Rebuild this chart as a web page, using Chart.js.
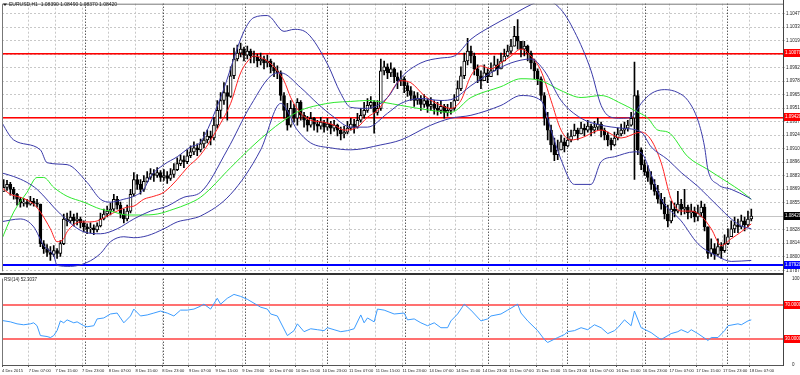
<!DOCTYPE html>
<html>
<head>
<meta charset="utf-8">
<script src="https://cdn.jsdelivr.net/npm/chart.js@4.4.1/dist/chart.umd.min.js"></script>
<style>
    html, body { margin: 0; padding: 0; background: #fff; }
    #wrap { position: relative; width: 800px; height: 375px; overflow: hidden; }
    #main { position: absolute; left: 0; top: 0; }
    #rsi { position: absolute; left: 0; top: 275px; }
</style>
</head>
<body>
<div id="wrap">
    <canvas id="main" width="800" height="275"></canvas>
    <canvas id="rsi" width="800" height="100"></canvas>
</div>
<script>
// EURUSD H1 candles
const firstOpen = 1.0867;
const closes = [
1.0871,1.0874,1.0869,1.0864,1.0859,1.0855,1.0856,1.0854,1.0857,1.0855,
1.0854,1.0814,1.0809,1.0805,1.0803,1.0807,1.0804,1.0814,1.0839,1.0837,
1.0841,1.0837,1.0839,1.0835,1.0831,1.0829,1.0830,1.0828,1.0832,1.0839,
1.0844,1.0847,1.0849,1.0859,1.0853,1.0844,1.0839,1.0847,1.0864,1.0879,
1.0874,1.0869,1.0877,1.0881,1.0885,1.0883,1.0886,1.0881,1.0883,1.0880,
1.0884,1.0889,1.0895,1.0899,1.0897,1.0903,1.0907,1.0911,1.0909,1.0915,
1.0919,1.0923,1.0921,1.0934,1.0949,1.0959,1.0967,1.0963,1.0984,1.1001,
1.1007,1.1011,1.1005,1.1009,1.1004,1.1003,1.0999,1.1001,1.0997,1.0999,
1.0993,1.0989,1.0987,1.0964,1.0949,1.0934,1.0951,1.0941,1.0957,1.0944,
1.0939,1.0934,1.0941,1.0935,1.0933,1.0937,1.0932,1.0935,1.0931,1.0934,
1.0929,1.0925,1.0927,1.0931,1.0935,1.0932,1.0939,1.0944,1.0949,1.0954,
1.0957,1.0947,1.0951,1.0989,1.0993,1.0987,1.0991,1.0983,1.0979,1.0981,
1.0974,1.0969,1.0964,1.0959,1.0961,1.0955,1.0959,1.0953,1.0955,1.0951,
1.0949,1.0953,1.0947,1.0949,1.0951,1.0959,1.0971,1.0984,1.0999,1.1009,
1.1004,1.0991,1.0984,1.0979,1.0987,1.0983,1.0989,1.0995,1.0991,1.0999,
1.1004,1.1009,1.1014,1.1024,1.1019,1.1011,1.1014,1.1007,1.0997,1.0989,
1.0981,1.0964,1.0941,1.0929,1.0914,1.0904,1.0909,1.0917,1.0913,1.0919,
1.0923,1.0929,1.0925,1.0931,1.0929,1.0933,1.0929,1.0932,1.0935,1.0929,
1.0924,1.0919,1.0914,1.0921,1.0925,1.0929,1.0931,1.0934,1.0941,1.0964,
1.0909,1.0894,1.0887,1.0881,1.0874,1.0867,1.0859,1.0854,1.0844,1.0837,
1.0849,1.0847,1.0854,1.0849,1.0851,1.0845,1.0847,1.0841,1.0845,1.0851,
1.0831,1.0804,1.0809,1.0803,1.0811,1.0807,1.0814,1.0821,1.0829,1.0833,
1.0831,1.0837,1.0833,1.0839,1.0842];
const highs = [
1.0879,1.0878,1.0876,1.0871,1.0865,1.0861,1.0860,1.0859,1.0862,1.0860,
1.0859,1.0854,1.0817,1.0813,1.0811,1.0812,1.0809,1.0817,1.0844,1.0845,
1.0847,1.0844,1.0845,1.0841,1.0837,1.0834,1.0835,1.0833,1.0835,1.0845,
1.0849,1.0852,1.0855,1.0864,1.0862,1.0856,1.0849,1.0853,1.0869,1.0886,
1.0884,1.0879,1.0883,1.0887,1.0890,1.0889,1.0891,1.0888,1.0889,1.0887,
1.0890,1.0895,1.0901,1.0904,1.0903,1.0909,1.0913,1.0917,1.0915,1.0920,
1.0927,1.0929,1.0928,1.0942,1.0959,1.0967,1.0977,1.0974,1.0993,1.1012,
1.1015,1.1017,1.1013,1.1014,1.1011,1.1009,1.1006,1.1007,1.1004,1.1005,
1.1001,1.0997,1.0994,1.0989,1.0967,1.0956,1.0959,1.0955,1.0961,1.0959,
1.0947,1.0943,1.0947,1.0942,1.0939,1.0942,1.0939,1.0941,1.0938,1.0939,
1.0935,1.0932,1.0933,1.0938,1.0941,1.0940,1.0946,1.0951,1.0957,1.0961,
1.0963,1.0959,1.0959,1.1001,1.0999,1.0996,1.0997,1.0992,1.0987,1.0989,
1.0983,1.0977,1.0973,1.0968,1.0967,1.0964,1.0965,1.0961,1.0962,1.0959,
1.0957,1.0959,1.0955,1.0955,1.0957,1.0965,1.0979,1.0993,1.1007,1.1022,
1.1014,1.1007,1.0995,1.0989,1.0995,1.0991,1.0997,1.1004,1.1001,1.1007,
1.1011,1.1015,1.1021,1.1034,1.1041,1.1019,1.1019,1.1015,1.1009,1.1001,
1.0991,1.0983,1.0967,1.0947,1.0934,1.0921,1.0919,1.0924,1.0921,1.0926,
1.0929,1.0935,1.0931,1.0937,1.0935,1.0939,1.0935,1.0938,1.0941,1.0937,
1.0931,1.0927,1.0921,1.0927,1.0931,1.0935,1.0937,1.0939,1.0947,1.0998,
1.0969,1.0911,1.0899,1.0893,1.0887,1.0879,1.0873,1.0865,1.0861,1.0853,
1.0857,1.0855,1.0867,1.0859,1.0869,1.0853,1.0854,1.0851,1.0853,1.0857,
1.0854,1.0831,1.0819,1.0814,1.0819,1.0815,1.0823,1.0829,1.0837,1.0841,
1.0839,1.0843,1.0841,1.0847,1.0849];
const lows = [
1.0867,1.0868,1.0863,1.0859,1.0853,1.0851,1.0852,1.0851,1.0853,1.0852,
1.0851,1.0811,1.0804,1.0801,1.0797,1.0801,1.0799,1.0801,1.0813,1.0832,
1.0835,1.0832,1.0833,1.0830,1.0826,1.0824,1.0825,1.0823,1.0826,1.0831,
1.0838,1.0841,1.0843,1.0847,1.0849,1.0840,1.0835,1.0837,1.0845,1.0862,
1.0869,1.0864,1.0867,1.0876,1.0879,1.0877,1.0881,1.0877,1.0878,1.0875,
1.0878,1.0881,1.0888,1.0893,1.0891,1.0895,1.0901,1.0904,1.0903,1.0907,
1.0911,1.0916,1.0914,1.0919,1.0931,1.0941,1.0955,1.0939,1.0962,1.0981,
1.0999,1.1003,1.0999,1.1001,1.0997,1.0997,1.0993,1.0995,1.0991,1.0993,
1.0987,1.0983,1.0981,1.0959,1.0941,1.0929,1.0932,1.0937,1.0934,1.0939,
1.0932,1.0928,1.0932,1.0929,1.0927,1.0930,1.0927,1.0929,1.0925,1.0928,
1.0923,1.0919,1.0921,1.0925,1.0929,1.0926,1.0931,1.0937,1.0941,1.0947,
1.0951,1.0926,1.0944,1.0949,1.0985,1.0981,1.0983,1.0977,1.0971,1.0974,
1.0967,1.0963,1.0959,1.0953,1.0955,1.0949,1.0952,1.0947,1.0949,1.0945,
1.0944,1.0946,1.0941,1.0943,1.0945,1.0949,1.0959,1.0969,1.0981,1.0995,
1.0997,1.0985,1.0977,1.0971,1.0979,1.0977,1.0983,1.0989,1.0985,1.0993,
1.0999,1.1003,1.1007,1.1014,1.1011,1.1003,1.1004,1.0999,1.0991,1.0981,
1.0975,1.0959,1.0934,1.0919,1.0907,1.0898,1.0899,1.0909,1.0907,1.0912,
1.0917,1.0923,1.0919,1.0925,1.0923,1.0927,1.0923,1.0926,1.0929,1.0922,
1.0919,1.0913,1.0909,1.0913,1.0919,1.0923,1.0925,1.0928,1.0933,1.0879,
1.0904,1.0889,1.0883,1.0877,1.0869,1.0863,1.0855,1.0849,1.0839,1.0831,
1.0835,1.0841,1.0845,1.0843,1.0844,1.0839,1.0840,1.0836,1.0837,1.0841,
1.0827,1.0799,1.0801,1.0798,1.0802,1.0799,1.0805,1.0813,1.0821,1.0825,
1.0825,1.0829,1.0827,1.0831,1.0837];

// indicator lines, [bar index, value]
const fastMa = [[-1,1.0872],[2,1.0864],[5,1.0861],[9,1.0854],[11,1.0846],[14,1.0829],[16,1.0816],[18,1.0819],[19,1.0826],[23,1.0836],[25,1.0836],[28,1.0837],[31,1.0842],[34,1.0847],[37,1.0851],[39,1.0852],[42,1.0859],[45,1.0862],[48,1.0866],[52,1.0879],[55,1.0891],[59,1.0904],[65,1.0936],[68,1.0956],[71,1.0987],[74,1.1002],[75,1.1004],[79,1.0999],[82,1.0989],[84,1.0979],[86,1.0962],[89,1.0946],[92,1.0939],[96,1.0937],[99,1.0934],[102,1.0929],[106,1.0932],[109,1.0942],[112,1.0949],[115,1.0962],[119,1.0979],[122,1.0977],[126,1.0964],[131,1.0954],[134,1.0951],[137,1.0959],[140,1.0984],[143,1.0994],[146,1.0991],[149,1.0997],[152,1.1004],[155,1.1011],[158,1.1004],[161,1.0989],[164,1.0959],[167,1.0929],[170,1.0919],[173,1.0921],[179,1.0929],[185,1.0921],[191,1.0927],[194,1.0919],[197,1.0896],[200,1.0859],[203,1.0847],[206,1.0847],[209,1.0842],[212,1.0829],[215,1.0812],[218,1.0819],[221,1.0826],[224,1.0834]];
const slowMa = [[-1,1.0815],[3,1.0846],[7,1.0866],[10,1.0881],[12,1.0881],[15,1.0871],[19,1.0862],[24,1.0856],[29,1.0849],[32,1.0847],[37,1.0843],[41,1.0843],[46,1.0844],[51,1.0849],[55,1.0854],[59,1.0861],[68,1.0891],[74,1.0911],[79,1.0926],[84,1.0939],[89,1.0949],[94,1.0954],[99,1.0957],[104,1.0958],[109,1.0959],[114,1.0957],[119,1.0954],[128,1.0949],[134,1.0947],[140,1.0962],[149,1.0973],[155,1.0981],[161,1.0979],[167,1.0969],[173,1.0962],[179,1.0964],[185,1.0956],[189,1.0949],[193,1.0941],[196,1.0929],[199,1.0927],[205,1.0902],[211,1.0889],[217,1.0876],[221,1.0867],[224,1.0859]];
const bbUpper = [[-1,1.0939],[3,1.0919],[11,1.0909],[13,1.0896],[19,1.0894],[25,1.0876],[29,1.0859],[32,1.0856],[36,1.0859],[39,1.0862],[42,1.0869],[44,1.0882],[48,1.0894],[52,1.0902],[56,1.0912],[59,1.0917],[65,1.0962],[72,1.1029],[75,1.1043],[79,1.1045],[84,1.1029],[87,1.1031],[91,1.1027],[97,1.0996],[101,1.0966],[104,1.0952],[109,1.0951],[115,1.0962],[119,1.0982],[125,1.0997],[131,1.1002],[135,1.1004],[140,1.1021],[146,1.1034],[152,1.1045],[158,1.1056],[162,1.1061],[167,1.1051],[171,1.1029],[176,1.0989],[179,1.0954],[182,1.0942],[185,1.0941],[188,1.0942],[191,1.0956],[194,1.0966],[198,1.0970],[202,1.0967],[205,1.0959],[208,1.0939],[210,1.0912],[211,1.0889],[214,1.0874],[218,1.0869],[223,1.0861],[224,1.0859]];
const bbMiddle = [[-1,1.0886],[3,1.0882],[7,1.0876],[10,1.0869],[17,1.0844],[24,1.0826],[29,1.0824],[34,1.0829],[39,1.0839],[44,1.0847],[49,1.0852],[54,1.0861],[59,1.0866],[67,1.0909],[74,1.0954],[81,1.0986],[83,1.0987],[89,1.0972],[94,1.0956],[99,1.0942],[104,1.0932],[109,1.0932],[115,1.0946],[119,1.0956],[125,1.0961],[131,1.0959],[135,1.0961],[140,1.0974],[146,1.0987],[152,1.0997],[158,1.1001],[162,1.0989],[167,1.0959],[173,1.0941],[179,1.0934],[185,1.0931],[191,1.0927],[194,1.0912],[199,1.0899],[203,1.0886],[208,1.0872],[211,1.0862],[214,1.0852],[218,1.0839],[221,1.0832],[224,1.0829]];
const bbLower = [[-1,1.0836],[5,1.0839],[9,1.0831],[12,1.0812],[15,1.0802],[16,1.0792],[20,1.0791],[25,1.0795],[29,1.0804],[32,1.0816],[36,1.0821],[39,1.0820],[43,1.0822],[48,1.0829],[52,1.0836],[56,1.0839],[59,1.0842],[68,1.0864],[77,1.0909],[83,1.0956],[88,1.0929],[92,1.0916],[98,1.0911],[104,1.0909],[113,1.0914],[119,1.0919],[128,1.0934],[134,1.0941],[140,1.0944],[149,1.0954],[155,1.0964],[161,1.0959],[164,1.0929],[167,1.0899],[171,1.0874],[176,1.0874],[179,1.0897],[183,1.0902],[189,1.0907],[191,1.0906],[194,1.0884],[197,1.0859],[203,1.0837],[208,1.0814],[214,1.0801],[218,1.0796],[224,1.0797]];

const rsiPoints = [[-1,51.9],[2,50.0],[4,47.7],[6,46.6],[8,47.7],[9,48.9],[10,45.5],[11,34.1],[13,33.0],[14,31.8],[15,34.1],[16,39.8],[17,51.1],[18,48.9],[19,52.3],[21,48.9],[22,50.0],[24,45.5],[25,44.3],[27,45.5],[28,53.4],[30,54.5],[32,59.1],[34,60.2],[35,54.5],[36,48.9],[38,56.8],[39,64.8],[41,56.8],[43,58.0],[45,60.2],[47,62.5],[49,60.2],[51,56.8],[53,63.6],[55,63.6],[57,64.8],[59,68.2],[60,70.5],[62,64.8],[64,77.3],[65,70.5],[67,77.3],[69,81.8],[71,79.5],[73,76.1],[75,71.6],[77,67.0],[79,64.8],[80,59.1],[82,56.8],[85,34.1],[87,39.8],[88,47.7],[90,38.6],[92,42.0],[94,40.9],[96,39.8],[97,43.2],[99,40.9],[101,38.6],[103,39.8],[105,42.0],[107,58.0],[108,48.9],[109,54.5],[111,50.0],[112,64.8],[114,63.6],[117,59.1],[120,60.2],[121,52.3],[123,53.4],[125,48.9],[127,45.5],[129,48.9],[131,43.2],[133,43.2],[134,51.1],[136,59.1],[138,70.5],[140,63.6],[143,51.1],[145,53.4],[146,56.8],[149,59.1],[151,63.6],[154,70.5],[155,60.2],[157,51.1],[160,39.8],[162,29.5],[163,26.1],[166,31.8],[168,35.2],[169,38.6],[171,39.8],[173,43.2],[175,40.9],[177,46.6],[179,43.2],[181,36.4],[183,39.8],[184,43.2],[186,52.3],[188,45.5],[189,62.5],[191,43.2],[194,37.5],[196,31.8],[197,29.5],[200,36.4],[202,38.6],[203,40.9],[205,37.5],[206,40.9],[208,36.4],[211,28.4],[212,31.8],[214,31.8],[216,39.8],[217,45.5],[220,47.7],[221,46.6],[223,51.1],[224,52.3]];

const xLabels = ['4 Dec 2015','7 Dec 07:00','7 Dec 15:00','7 Dec 23:00','8 Dec 07:00','8 Dec 15:00','8 Dec 23:00','9 Dec 07:00','9 Dec 15:00','9 Dec 23:00','10 Dec 07:00','10 Dec 15:00','10 Dec 23:00','11 Dec 07:00','11 Dec 15:00','11 Dec 23:00','14 Dec 07:00','14 Dec 15:00','14 Dec 23:00','15 Dec 07:00','15 Dec 15:00','15 Dec 23:00','16 Dec 07:00','16 Dec 15:00','16 Dec 23:00','17 Dec 07:00','17 Dec 15:00','17 Dec 23:00','18 Dec 07:00'];
const daySeparators = [24.4, 47.7, 72.3, 96.9, 120.2, 145.1, 168.8, 192.2, 216.7];
const priceTicks = [1.10470,1.10333,1.10197,1.10060,1.09923,1.09787,1.09650,1.09513,1.09376,1.09240,1.09103,1.08966,1.08830,1.08693,1.08556,1.08419,1.08283,1.08146,1.08009,1.07870];
const resistanceLevels = [1.10070, 1.09420];
const supportLevel = 1.07920;
const rsiLevels = [70, 30];
const rsiAxisTicks = [0, 100];
const symbolTitle = 'EURUSD,H1  1.08390 1.08490 1.08370 1.08420';
const rsiTitle = 'RSI(14) 52.3037';

const SLOTS = 234;
const FONT = '"Liberation Sans", Arial, sans-serif';
Chart.defaults.font.family = FONT;

const opens = closes.map((c, i) => i === 0 ? firstOpen : closes[i - 1]);
const bid = closes[closes.length - 1];
const wickData = closes.map((c, i) => ({ x: i, y: [Math.min(lows[i], opens[i], c), Math.max(highs[i], opens[i], c)] }));
const bodyData = closes.map((c, i) => ({ x: i, y: [opens[i], c] }));
const bodyColors = closes.map((c, i) => c >= opens[i] ? '#ffffff' : '#000000');
const labelIdx = xLabels.map((_, k) => k * 8 - 0.5);

function lineSet(points, color) {
    return {
        type: 'line',
        data: points.map(p => ({ x: p[0], y: p[1] })),
        borderColor: color,
        borderWidth: 1,
        pointRadius: 0,
        cubicInterpolationMode: 'monotone',
        order: 1
    };
}

function dottedVertical(ctx, area, px, color) {
    ctx.strokeStyle = color;
    ctx.lineWidth = 1;
    ctx.setLineDash([1, 2]);
    ctx.beginPath();
    ctx.moveTo(px, area.top);
    ctx.lineTo(px, area.bottom);
    ctx.stroke();
    ctx.setLineDash([]);
}

function hLine(ctx, area, py, color, h) {
    ctx.fillStyle = color;
    ctx.fillRect(area.left, Math.round(py) - Math.floor(h / 2), area.right - area.left, h);
}

function sideBox(ctx, y, text, bg) {
    ctx.fillStyle = bg;
    ctx.fillRect(784, Math.round(y) - 4, 16, 8);
    ctx.fillStyle = '#fff';
    ctx.font = '4.5px ' + FONT;
    ctx.textAlign = 'left';
    ctx.textBaseline = 'middle';
    ctx.fillText(text, 785, Math.round(y));
}

const mainDecor = {
    id: 'mainDecor',
    beforeDatasetsDraw(chart) {
        const { ctx, chartArea: a, scales: { x, y } } = chart;
        ctx.save();
        daySeparators.forEach(v => dottedVertical(ctx, a, Math.round(x.getPixelForValue(v)) + 0.5, '#111'));
        hLine(ctx, a, y.getPixelForValue(bid), '#c4c4c4', 1);
        resistanceLevels.forEach(v => {
            const py = y.getPixelForValue(v);
            hLine(ctx, a, py + 1, 'rgba(255,0,0,0.55)', 1);
            hLine(ctx, a, py, '#ff0000', 1);
        });
        hLine(ctx, a, y.getPixelForValue(supportLevel), '#0000ff', 2);
        ctx.restore();
    },
    afterDraw(chart) {
        const { ctx, chartArea: a, scales: { y } } = chart;
        ctx.save();
        ctx.strokeStyle = '#777';
        ctx.lineWidth = 1;
        ctx.beginPath();
        ctx.moveTo(a.left + 0.5, a.bottom); ctx.lineTo(a.left + 0.5, a.top + 0.5); ctx.lineTo(a.right, a.top + 0.5);
        ctx.stroke();
        ctx.strokeStyle = '#444';
        ctx.beginPath(); ctx.moveTo(a.right + 0.5, 0); ctx.lineTo(a.right + 0.5, 275); ctx.stroke();
        ctx.fillStyle = '#333';
        ctx.fillRect(0, 273, a.right + 1, 2);
        resistanceLevels.forEach(v => sideBox(ctx, y.getPixelForValue(v), v.toFixed(5), '#ff0000'));
        sideBox(ctx, y.getPixelForValue(bid), bid.toFixed(5), '#000000');
        sideBox(ctx, y.getPixelForValue(supportLevel), supportLevel.toFixed(5), '#0000ff');
        // title
        ctx.fillStyle = '#222';
        ctx.beginPath(); ctx.moveTo(3, 3.5); ctx.lineTo(7, 3.5); ctx.lineTo(5, 6); ctx.closePath(); ctx.fill();
        ctx.font = '5px ' + FONT;
        ctx.textAlign = 'left';
        ctx.textBaseline = 'middle';
        ctx.fillText(symbolTitle, 9, 5);
        ctx.restore();
    }
};

new Chart(document.getElementById('main'), {
    type: 'bar',
    data: {
        datasets: [
            { type: 'bar', data: wickData, backgroundColor: '#000', barThickness: 1, grouped: false, order: 3 },
            { type: 'bar', data: bodyData, backgroundColor: bodyColors, borderColor: '#000', borderWidth: 1, borderSkipped: false, barThickness: 3, minBarLength: 1, grouped: false, order: 2 },
            lineSet(bbUpper, '#3a3aa8'),
            lineSet(bbMiddle, '#3a3aa8'),
            lineSet(bbLower, '#3a3aa8'),
            lineSet(slowMa, '#2ee82e'),
            lineSet(fastMa, '#ff2020')
        ]
    },
    options: {
        responsive: false,
        animation: false,
        events: [],
        layout: { padding: { left: 2, top: 2, right: 0, bottom: 2 } },
        plugins: { legend: { display: false }, tooltip: { enabled: false } },
        scales: {
            x: {
                type: 'linear', min: -0.5, max: SLOTS - 0.5, offset: false,
                afterBuildTicks: s => { s.ticks = labelIdx.map(v => ({ value: v })); },
                afterFit: s => { s.height = 0; },
                ticks: { display: false },
                grid: { color: '#c8c8c8', drawTicks: false, offset: false },
                border: { display: false, dash: [2, 2] }
            },
            y: {
                type: 'linear', position: 'right', min: 1.0786, max: 1.1057, beginAtZero: false,
                afterBuildTicks: s => { s.ticks = priceTicks.map(v => ({ value: v })); },
                afterFit: s => { s.width = 17; },
                ticks: { autoSkip: false, font: { size: 4.5 }, color: '#222', padding: 1, callback: v => v.toFixed(5) },
                grid: { color: '#c8c8c8', tickLength: 2 },
                border: { display: false, dash: [2, 2] }
            }
        }
    },
    plugins: [mainDecor]
});

const rsiDecor = {
    id: 'rsiDecor',
    beforeDatasetsDraw(chart) {
        const { ctx, chartArea: a, scales: { x, y } } = chart;
        ctx.save();
        daySeparators.forEach(v => dottedVertical(ctx, a, Math.round(x.getPixelForValue(v)) + 0.5, '#111'));
        rsiLevels.forEach(v => hLine(ctx, a, y.getPixelForValue(v), '#ff7070', 2));
        ctx.restore();
    },
    afterDraw(chart) {
        const { ctx, chartArea: a, scales: { y } } = chart;
        ctx.save();
        ctx.strokeStyle = '#777';
        ctx.lineWidth = 1;
        ctx.beginPath(); ctx.moveTo(a.left + 0.5, a.top); ctx.lineTo(a.left + 0.5, a.bottom); ctx.stroke();
        ctx.strokeStyle = '#444';
        ctx.beginPath(); ctx.moveTo(a.right + 0.5, 0); ctx.lineTo(a.right + 0.5, a.bottom + 1); ctx.stroke();
        rsiLevels.forEach(v => sideBox(ctx, y.getPixelForValue(v), v.toFixed(4), '#ff0000'));
        ctx.fillStyle = '#222';
        ctx.font = '4.5px ' + FONT;
        ctx.textAlign = 'left';
        ctx.textBaseline = 'middle';
        ctx.fillText(rsiTitle, 4, 5);
        ctx.restore();
    }
};

new Chart(document.getElementById('rsi'), {
    type: 'line',
    data: {
        datasets: [{
            data: rsiPoints.map(p => ({ x: p[0], y: p[1] })),
            borderColor: '#3c9cff',
            borderWidth: 1,
            pointRadius: 0,
            tension: 0
        }]
    },
    options: {
        responsive: false,
        animation: false,
        events: [],
        layout: { padding: { left: 2, top: 2, right: 0, bottom: 0 } },
        plugins: { legend: { display: false }, tooltip: { enabled: false } },
        scales: {
            x: {
                type: 'linear', min: -0.5, max: SLOTS - 0.5, offset: false,
                afterBuildTicks: s => { s.ticks = labelIdx.map(v => ({ value: v })); },
                afterFit: s => { s.height = 10; },
                ticks: { align: 'start', maxRotation: 0, autoSkip: false, font: { size: 4.1 }, color: '#222', padding: 1, callback: (v, i) => xLabels[i] },
                grid: { color: '#c8c8c8', tickLength: 2, tickColor: '#555', tickBorderDash: [] },
                border: { display: true, color: '#555', dash: [2, 2] }
            },
            y: {
                type: 'linear', position: 'right', min: 0, max: 100,
                afterBuildTicks: s => { s.ticks = rsiAxisTicks.map(v => ({ value: v })); },
                afterFit: s => { s.width = 17; },
                ticks: { autoSkip: false, font: { size: 4.5 }, color: '#222', padding: 1, callback: v => String(v) },
                grid: { display: false },
                border: { display: false }
            }
        }
    },
    plugins: [rsiDecor]
});
</script>
</body>
</html>
